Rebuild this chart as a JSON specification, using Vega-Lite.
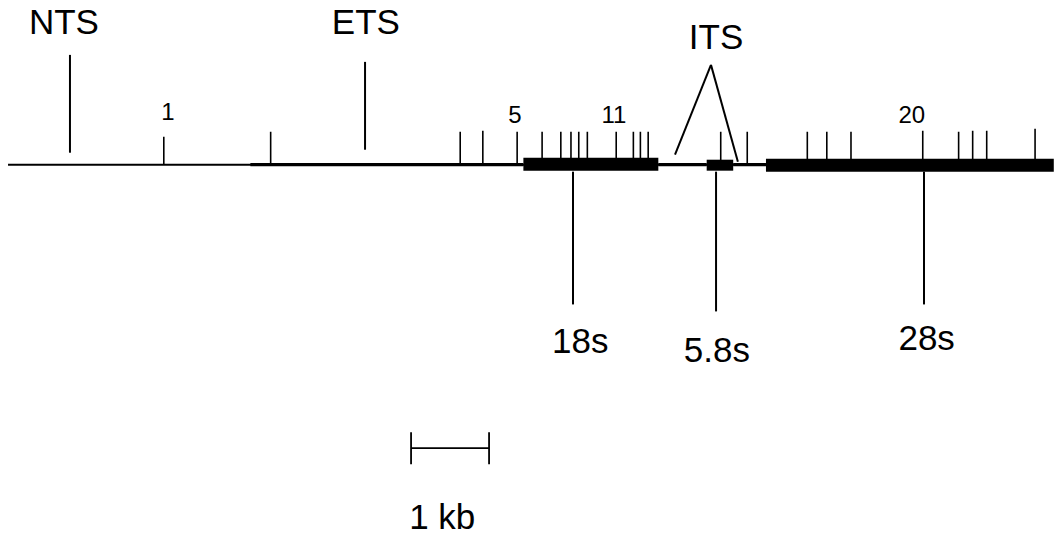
{
  "$schema": "https://vega.github.io/schema/vega-lite/v6.json",
  "width": 1058,
  "height": 536,
  "autosize": {"type": "fit", "contains": "padding"},
  "padding": 0,
  "background": "white",
  "config": {"view": {"stroke": null}},
  "datasets": {
    "lines": [
      {"kind": "backbone", "x": 0.103, "x2": 13.5, "y": 0, "y2": 0},
      {"kind": "ets", "x": 3.21, "x2": 6.71, "y": 0, "y2": 0},
      {"kind": "spacer", "x": 8.44, "x2": 9.06, "y": 0, "y2": 0},
      {"kind": "spacer", "x": 9.4, "x2": 9.82, "y": 0, "y2": 0},
      {"kind": "tick", "x": 2.1, "x2": 2.1, "y": 0, "y2": 28},
      {"kind": "tick", "x": 3.47, "x2": 3.47, "y": 0, "y2": 33},
      {"kind": "tick", "x": 5.9, "x2": 5.9, "y": 0, "y2": 33},
      {"kind": "tick", "x": 6.19, "x2": 6.19, "y": 0, "y2": 34},
      {"kind": "tick", "x": 6.63, "x2": 6.63, "y": 0, "y2": 33},
      {"kind": "tick", "x": 6.95, "x2": 6.95, "y": 0, "y2": 33},
      {"kind": "tick", "x": 7.19, "x2": 7.19, "y": 0, "y2": 33},
      {"kind": "tick", "x": 7.32, "x2": 7.32, "y": 0, "y2": 33},
      {"kind": "tick", "x": 7.42, "x2": 7.42, "y": 0, "y2": 33},
      {"kind": "tick", "x": 7.53, "x2": 7.53, "y": 0, "y2": 33},
      {"kind": "tick", "x": 7.9, "x2": 7.9, "y": 0, "y2": 33},
      {"kind": "tick", "x": 8.12, "x2": 8.12, "y": 0, "y2": 33},
      {"kind": "tick", "x": 8.21, "x2": 8.21, "y": 0, "y2": 33},
      {"kind": "tick", "x": 8.31, "x2": 8.31, "y": 0, "y2": 33},
      {"kind": "tick", "x": 9.24, "x2": 9.24, "y": 0, "y2": 33},
      {"kind": "tick", "x": 9.58, "x2": 9.58, "y": 0, "y2": 33},
      {"kind": "tick", "x": 10.35, "x2": 10.35, "y": 0, "y2": 33},
      {"kind": "tick", "x": 10.6, "x2": 10.6, "y": 0, "y2": 33},
      {"kind": "tick", "x": 10.91, "x2": 10.91, "y": 0, "y2": 33},
      {"kind": "tick", "x": 11.83, "x2": 11.83, "y": 0, "y2": 34},
      {"kind": "tick", "x": 12.29, "x2": 12.29, "y": 0, "y2": 33},
      {"kind": "tick", "x": 12.47, "x2": 12.47, "y": 0, "y2": 34},
      {"kind": "tick", "x": 12.65, "x2": 12.65, "y": 0, "y2": 34},
      {"kind": "tick", "x": 13.27, "x2": 13.27, "y": 0, "y2": 36},
      {"kind": "region", "x": 0.897, "x2": 0.897, "y": 12, "y2": 110},
      {"kind": "region", "x": 4.68, "x2": 4.68, "y": 15, "y2": 103},
      {"kind": "region", "x": 9.115, "x2": 8.654, "y": 100, "y2": 10},
      {"kind": "region", "x": 9.115, "x2": 9.46, "y": 100, "y2": 3},
      {"kind": "region", "x": 7.346, "x2": 7.346, "y": -7, "y2": -140},
      {"kind": "region", "x": 9.18, "x2": 9.18, "y": -7, "y2": -147},
      {"kind": "region", "x": 11.846, "x2": 11.846, "y": -7, "y2": -140},
      {"kind": "scale", "x": 5.27, "x2": 6.27, "y": -284, "y2": -284},
      {"kind": "scale", "x": 5.27, "x2": 5.27, "y": -268, "y2": -300},
      {"kind": "scale", "x": 6.27, "x2": 6.27, "y": -268, "y2": -300}
    ],
    "boxes": [
      {"gene": "18S", "x": 6.71, "x2": 8.44, "y": 7, "y2": -6},
      {"gene": "5.8S", "x": 9.06, "x2": 9.4, "y": 5, "y2": -6},
      {"gene": "28S", "x": 9.82, "x2": 13.51, "y": 6, "y2": -7}
    ],
    "labels": [
      {"kind": "big", "text": "NTS", "x": 0.82, "y": 131},
      {"kind": "big", "text": "ETS", "x": 4.69, "y": 131},
      {"kind": "big", "text": "ITS", "x": 9.18, "y": 116},
      {"kind": "big", "text": "18s", "x": 7.44, "y": -189},
      {"kind": "big", "text": "5.8s", "x": 9.19, "y": -198},
      {"kind": "big", "text": "28s", "x": 11.88, "y": -186},
      {"kind": "big", "text": "1 kb", "x": 5.67, "y": -365},
      {"kind": "small", "text": "1", "x": 2.154, "y": 45},
      {"kind": "small", "text": "5", "x": 6.6, "y": 42},
      {"kind": "small", "text": "11", "x": 7.87, "y": 42},
      {"kind": "small", "text": "20", "x": 11.69, "y": 42}
    ]
  },
  "resolve": {"scale": {"x": "shared", "y": "shared"}},
  "layer": [
    {
      "data": {"name": "lines"},
      "transform": [{"filter": "datum.kind === 'backbone'"}],
      "mark": {"type": "rule", "strokeWidth": 2, "color": "black"},
      "encoding": {
        "x": {"field": "x", "type": "quantitative", "scale": {"domain": [0, 13.564], "nice": false, "zero": false}, "axis": null},
        "x2": {"field": "x2"},
        "y": {"field": "y", "type": "quantitative", "scale": {"domain": [-371, 165], "nice": false, "zero": false}, "axis": null},
        "y2": {"field": "y2"}
      }
    },
    {
      "data": {"name": "lines"},
      "transform": [{"filter": "datum.kind === 'ets' || datum.kind === 'spacer'"}],
      "mark": {"type": "rule", "strokeWidth": 3.2, "color": "black"},
      "encoding": {
        "x": {"field": "x", "type": "quantitative"},
        "x2": {"field": "x2"},
        "y": {"field": "y", "type": "quantitative"},
        "y2": {"field": "y2"}
      }
    },
    {
      "data": {"name": "boxes"},
      "mark": {"type": "rect", "color": "black"},
      "encoding": {
        "x": {"field": "x", "type": "quantitative"},
        "x2": {"field": "x2"},
        "y": {"field": "y", "type": "quantitative"},
        "y2": {"field": "y2"}
      }
    },
    {
      "data": {"name": "lines"},
      "transform": [{"filter": "datum.kind === 'tick'"}],
      "mark": {"type": "rule", "strokeWidth": 1.6, "color": "black"},
      "encoding": {
        "x": {"field": "x", "type": "quantitative"},
        "x2": {"field": "x2"},
        "y": {"field": "y", "type": "quantitative"},
        "y2": {"field": "y2"}
      }
    },
    {
      "data": {"name": "lines"},
      "transform": [{"filter": "datum.kind === 'region'"}],
      "mark": {"type": "rule", "strokeWidth": 2, "color": "black"},
      "encoding": {
        "x": {"field": "x", "type": "quantitative"},
        "x2": {"field": "x2"},
        "y": {"field": "y", "type": "quantitative"},
        "y2": {"field": "y2"}
      }
    },
    {
      "data": {"name": "lines"},
      "transform": [{"filter": "datum.kind === 'scale'"}],
      "mark": {"type": "rule", "strokeWidth": 1.8, "color": "black"},
      "encoding": {
        "x": {"field": "x", "type": "quantitative"},
        "x2": {"field": "x2"},
        "y": {"field": "y", "type": "quantitative"},
        "y2": {"field": "y2"}
      }
    },
    {
      "data": {"name": "labels"},
      "transform": [{"filter": "datum.kind === 'big'"}],
      "mark": {"type": "text", "font": "Liberation Sans", "fontSize": 35, "align": "center", "baseline": "alphabetic", "color": "black"},
      "encoding": {
        "x": {"field": "x", "type": "quantitative"},
        "y": {"field": "y", "type": "quantitative"},
        "text": {"field": "text"}
      }
    },
    {
      "data": {"name": "labels"},
      "transform": [{"filter": "datum.kind === 'small'"}],
      "mark": {"type": "text", "font": "Liberation Sans", "fontSize": 24, "align": "center", "baseline": "alphabetic", "color": "black"},
      "encoding": {
        "x": {"field": "x", "type": "quantitative"},
        "y": {"field": "y", "type": "quantitative"},
        "text": {"field": "text"}
      }
    }
  ]
}
